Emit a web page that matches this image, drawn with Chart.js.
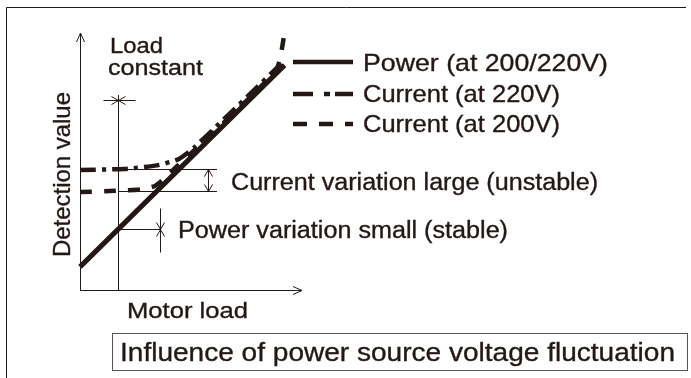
<!DOCTYPE html>
<html>
<head>
<meta charset="utf-8">
<script src="https://cdn.jsdelivr.net/npm/chart.js@4"></script>
<style>
  html, body { margin: 0; padding: 0; background: #fff; }
  canvas { display: block; }
</style>
</head>
<body>
<canvas id="chart" width="691" height="378"></canvas>
<script>
// motor load (x) vs detection value (y), arbitrary units 0..10
const powerLoad = [0, 9.3];
const powerValue = [0.9, 8.75];
const current220Load = [0, 2, 3.5, 4.5, 5.2, 9.2];
const current220Value = [4.67, 4.71, 4.85, 5.1, 5.55, 8.85];
const current200Load = [0, 1.6, 2.8, 3.4, 3.9, 8.9, 9.3];
const current200Value = [3.81, 3.86, 3.92, 4.05, 4.4, 8.55, 10];
const loadConstant = 1.73;

const seriesNames = ['Power (at 200/220V)', 'Current (at 220V)', 'Current (at 200V)'];

const INK = '#231815';
const FONT = '"Liberation Sans", Arial, sans-serif';

function points(xs, ys) {
  return xs.map((x, i) => ({ x, y: ys[i] }));
}

// linear lookup of a series at a given load
function valueAt(xs, ys, x) {
  for (let i = 1; i < xs.length; i++) {
    if (x <= xs[i]) {
      const t = (x - xs[i - 1]) / (xs[i] - xs[i - 1]);
      return ys[i - 1] + t * (ys[i] - ys[i - 1]);
    }
  }
  return ys[ys.length - 1];
}

// draw text stretched to a given width, slightly emboldened
function fitText(ctx, str, x, y, w) {
  const m = ctx.measureText(str).width;
  ctx.save();
  ctx.translate(x, y);
  ctx.scale(w / m, 1);
  ctx.fillText(str, 0, 0);
  ctx.lineWidth = 0.35;
  ctx.strokeText(str, 0, 0);
  ctx.restore();
}

function line(ctx, x1, y1, x2, y2) {
  ctx.beginPath();
  ctx.moveTo(x1, y1);
  ctx.lineTo(x2, y2);
  ctx.stroke();
}

// open arrow head with its tip at (x, y) pointing in direction (dx, dy)
function head(ctx, x, y, dx, dy, len, half) {
  const px = -dy, py = dx;
  ctx.beginPath();
  ctx.moveTo(x - dx * len + px * half, y - dy * len + py * half);
  ctx.lineTo(x, y);
  ctx.lineTo(x - dx * len - px * half, y - dy * len - py * half);
  ctx.stroke();
}

const diagram = {
  id: 'diagram',
  beforeDatasetsDraw(chart) {
    const { ctx, chartArea: a, scales: { x, y } } = chart;
    ctx.save();
    ctx.strokeStyle = INK;
    ctx.lineWidth = 1;
    ctx.setLineDash([]);

    // outer frame (top and left)
    line(ctx, 6.5, 7.5, 686, 7.5);
    line(ctx, 6.5, 7.5, 6.5, 378);

    // axes with arrows
    line(ctx, a.left + 0.5, a.bottom + 0.5, a.left + 0.5, a.top);
    head(ctx, a.left + 0.5, a.top, 0, -1, 9, 4);
    line(ctx, a.left, a.bottom + 0.5, a.right + 2, a.bottom + 0.5);
    head(ctx, a.right + 2, a.bottom + 0.5, 1, 0, 9, 4);

    // load-constant line
    const lx = Math.round(x.getPixelForValue(loadConstant)) + 0.5;
    line(ctx, lx, a.bottom, lx, 95);
    line(ctx, lx - 15, 100.5, lx + 17, 100.5);
    head(ctx, lx, 100.5, 1, 0, 7, 4);
    head(ctx, lx, 100.5, -1, 0, 7, 4);

    // current levels at constant load
    const c220 = Math.round(y.getPixelForValue(valueAt(current220Load, current220Value, loadConstant))) + 0.5;
    const c200 = Math.round(y.getPixelForValue(valueAt(current200Load, current200Value, loadConstant))) + 0.5;
    line(ctx, lx, c220, 217, c220);
    line(ctx, lx, c200, 217, c200);
    line(ctx, 208.5, c220, 208.5, c200);
    head(ctx, 208.5, c220, 0, -1, 7, 4);
    head(ctx, 208.5, c200, 0, 1, 7, 4);

    // power level at constant load
    const pw = Math.round(y.getPixelForValue(valueAt(powerLoad, powerValue, loadConstant))) + 0.5;
    line(ctx, lx, pw, 160, pw);
    line(ctx, 160.5, pw - 21, 160.5, pw + 23);
    head(ctx, 160.5, pw, 0, 1, 7, 4);
    head(ctx, 160.5, pw, 0, -1, 7, 4);
    ctx.restore();
  },
  afterDatasetsDraw(chart) {
    const { ctx } = chart;
    ctx.save();
    ctx.fillStyle = INK;
    ctx.strokeStyle = INK;
    ctx.textBaseline = 'alphabetic';

    // legend
    const rows = [62, 94, 124];
    const dashes = [[], [20, 11, 6, 5, 18], [14, 12]];
    ctx.lineWidth = 4.5;
    ctx.lineCap = 'butt';
    rows.forEach((ry, i) => {
      ctx.setLineDash(dashes[i]);
      line(ctx, 293, ry, 353, ry);
    });
    ctx.setLineDash([]);
    ctx.font = '24px ' + FONT;
    fitText(ctx, seriesNames[0], 363, 71, 245);
    fitText(ctx, seriesNames[1], 363, 102, 197);
    fitText(ctx, seriesNames[2], 363, 132, 197);

    ctx.font = '22px ' + FONT;
    fitText(ctx, 'Load', 110, 53, 53);
    fitText(ctx, 'constant', 108, 75, 95);
    fitText(ctx, 'Motor load', 127, 318, 121);

    ctx.font = '23px ' + FONT;
    fitText(ctx, 'Current variation large (unstable)', 231, 190, 367);
    fitText(ctx, 'Power variation small (stable)', 178, 238, 330);

    // y-axis title
    ctx.font = '24px ' + FONT;
    ctx.save();
    ctx.translate(70, 257);
    ctx.rotate(-Math.PI / 2);
    fitText(ctx, 'Detection value', 0, 0, 165);
    ctx.restore();

    // caption box
    ctx.lineWidth = 1;
    ctx.strokeStyle = '#555';
    ctx.strokeRect(112.5, 333.5, 575, 37);
    ctx.strokeStyle = INK;
    ctx.font = '26px ' + FONT;
    fitText(ctx, 'Influence of power source voltage fluctuation', 120, 361, 555);
    ctx.restore();
  }
};

const common = {
  showLine: true,
  pointRadius: 0,
  borderColor: INK,
  borderCapStyle: 'butt',
  borderJoinStyle: 'round',
  clip: false,
  tension: 0.2
};

new Chart(document.getElementById('chart'), {
  type: 'scatter',
  data: {
    datasets: [
      { ...common, label: seriesNames[1], data: points(current220Load, current220Value), borderWidth: 4.5, borderDash: [16, 6, 4, 6] },
      { ...common, label: seriesNames[2], data: points(current200Load, current200Value), borderWidth: 4.5, borderDash: [12, 12] },
      { ...common, label: seriesNames[0], data: points(powerLoad, powerValue), borderWidth: 5, tension: 0 }
    ]
  },
  options: {
    responsive: false,
    animation: false,
    layout: { padding: { left: 80, right: 391, top: 33, bottom: 88 } },
    plugins: { legend: { display: false }, tooltip: { enabled: false } },
    scales: {
      x: { type: 'linear', min: 0, max: 10, display: false },
      y: { type: 'linear', min: 0, max: 10, display: false }
    }
  },
  plugins: [diagram]
});
</script>
</body>
</html>
